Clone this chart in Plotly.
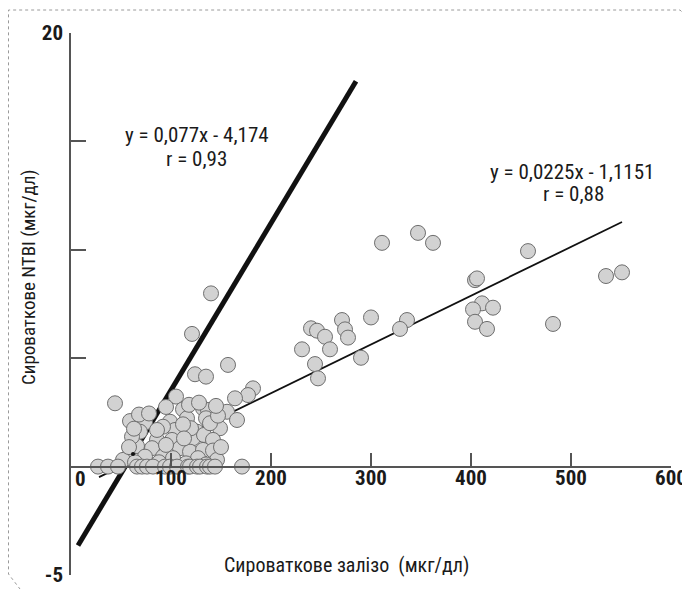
import plotly.graph_objects as go

# ---- data ----
iron_x = [311, 347, 362, 404, 406, 411, 422, 402, 404, 416, 336, 329, 300, 271, 274, 277,
          240, 246, 254, 259, 231, 290, 244, 247, 457, 551, 535, 482,
          157, 140, 121, 124, 135, 105, 182, 177, 164, 44,
          156, 166, 59, 74, 112, 132, 137, 99, 116, 135, 149, 104, 126, 69, 86, 101, 122,
          133, 142, 66, 81, 109, 119, 132, 142, 56, 74, 92, 102, 127, 146, 52, 92, 61,
          120, 139, 86, 112, 147, 95, 113, 150, 88, 115, 135, 64,
          63, 58, 68, 78, 95, 118, 145, 128,
          27, 37, 47, 66, 71, 76, 82, 94, 99, 106, 117, 119, 126, 129, 136, 139, 144, 171]
ntbi_y = [10.32, 10.78, 10.32, 8.6, 8.68, 7.53, 7.33, 7.25, 6.68, 6.35, 6.76, 6.35, 6.88, 6.76, 6.33, 5.95,
          6.38, 6.27, 5.99, 5.41, 5.41, 5.02, 4.73, 4.07, 9.94, 8.96, 8.79, 6.58,
          4.69, 7.99, 6.12, 4.26, 4.15, 3.23, 3.61, 3.30, 3.15, 2.92,
          2.53, 2.15, 2.1, 2.03, 2.64, 2.69, 2.61, 2.07, 2.23, 2.23, 1.77, 1.69, 1.61, 1.61, 1.23, 1.23, 1.31,
          1.46, 1.23, 0.95, 0.85, 0.85, 0.69, 0.77, 0.74, 0.39, 0.46, 0.46, 0.39, 0.39, 0.31, 0.31, 1.84, 1.38,
          1.77, 2.0, 1.69, 1.95, 2.35, 1.0, 1.3, 0.9, 0.2, 0.15, 0.1, 0.2,
          1.75, 0.9, 2.4, 2.45, 2.75, 2.85, 2.8, 2.95,
          0, 0, 0, 0, 0, 0, 0, 0, 0, 0, 0, 0, 0, 0, 0, 0, 0, 0]

fit1_slope, fit1_icpt = 0.077, -4.174
fit1_x = [7, 285]
fit2_slope, fit2_icpt = 0.0225, -1.1151
fit2_x = [28, 551]

mark_x = [62]
mark_y = [0.58]

x_ticks = [100, 200, 300, 400, 500, 600]
x_ticklabels = ["100", "200", "300", "400", "500", "600"]
y_ticks = [-5, 5, 10, 15, 20]
y_ticklabels = ["-5", "", "", "", "20"]

eq1 = ["y = 0,077x - 4,174", "r = 0,93"]
eq2 = ["y = 0,0225x - 1,1151", "r = 0,88"]
x_title = "Сироваткове залізо  (мкг/дл)"
y_title = "Сироваткове NTBI (мкг/дл)"

FONT = "Roboto Condensed, Noto Sans Condensed, Liberation Sans Narrow, DejaVu Sans Condensed, sans-serif"
TXT = "#1a1a1a"
AX = "#555555"

# figure sits 8px in from the page corner (default body margin)
W, H = 682, 581
L, R, T, B = 63, 19, 25, 14
PW, PH = W - L - R, H - T - B

def px(p):
    return (p - L) / PW

def py(p):
    return (H - B - p) / PH

fig = go.Figure()
fig.add_trace(go.Scatter(
    x=fit1_x, y=[fit1_slope * v + fit1_icpt for v in fit1_x],
    mode="lines", line=dict(color="#111111", width=5), hoverinfo="skip"))
fig.add_trace(go.Scatter(
    x=fit2_x, y=[fit2_slope * v + fit2_icpt for v in fit2_x],
    mode="lines", line=dict(color="#111111", width=1.8), hoverinfo="skip"))
fig.add_trace(go.Scatter(
    x=iron_x, y=ntbi_y, mode="markers",
    marker=dict(size=15, color="#d2d2d2", line=dict(color="#6e6e6e", width=1))))
fig.add_trace(go.Scatter(
    x=mark_x, y=mark_y, mode="markers",
    marker=dict(size=4, color="#111111")))

ann = []
ann.append(dict(x=125.5, y=15.29, text=eq1[0]))
ann.append(dict(x=125, y=14.18, text=eq1[1]))
ann.append(dict(x=500.5, y=13.58, text=eq2[0]))
ann.append(dict(x=502, y=12.57, text=eq2[1]))
annotations = [dict(a, xref="x", yref="y", showarrow=False, xanchor="center", yanchor="middle",
                    font=dict(family=FONT, size=21, color=TXT)) for a in ann]
annotations.append(dict(x=9.5, y=-0.57, xref="x", yref="y", text="<b>0</b>", showarrow=False,
                        xanchor="center", yanchor="middle", font=dict(family=FONT, size=21, color=TXT)))
annotations.append(dict(x=px(346 - 8), y=py(565 - 8), xref="paper", yref="paper",
                        text=x_title, showarrow=False, xanchor="center", yanchor="middle",
                        font=dict(family=FONT, size=20, color=TXT)))
annotations.append(dict(x=px(28 - 8), y=py(277 - 8), xref="paper", yref="paper",
                        text=y_title, textangle=-90, showarrow=False, xanchor="center", yanchor="middle",
                        font=dict(family=FONT, size=19, color=TXT)))

frame = (f"M {px(682)} {py(12)} L {px(672)} {py(2)} L {px(0.5)} {py(2)} "
         f"L {px(0.5)} {py(566)} L {px(12)} {py(581)}")

fig.update_layout(
    template="none",
    width=W, height=H,
    margin=dict(l=L, r=R, t=T, b=B, autoexpand=False),
    paper_bgcolor="white", plot_bgcolor="white",
    showlegend=False,
    annotations=annotations,
    shapes=[dict(type="path", path=frame, xref="paper", yref="paper",
                 line=dict(color="#9a9a9a", width=1, dash="dot"), layer="below")],
    xaxis=dict(range=[0, 600], showgrid=False, zeroline=False, anchor="free", position=0.2,
               automargin=False,
               showline=True, linecolor=AX, linewidth=1.5,
               ticks="inside", ticklen=13, tickwidth=1.5, tickcolor=AX,
               tickvals=x_ticks, ticktext=["<b>%s</b>" % t for t in x_ticklabels],
               tickfont=dict(family=FONT, size=21, color=TXT), ticklabelstandoff=-8),
    yaxis=dict(range=[-5, 20], showgrid=False, zeroline=False, automargin=False,
               showline=True, linecolor=AX, linewidth=1.5,
               ticks="inside", ticklen=15, tickwidth=1.5, tickcolor=AX,
               tickvals=y_ticks, ticktext=["<b>%s</b>" % t if t else "" for t in y_ticklabels],
               tickfont=dict(family=FONT, size=21, color=TXT), ticklabelstandoff=2),
)

fig.write_html("out.html")
